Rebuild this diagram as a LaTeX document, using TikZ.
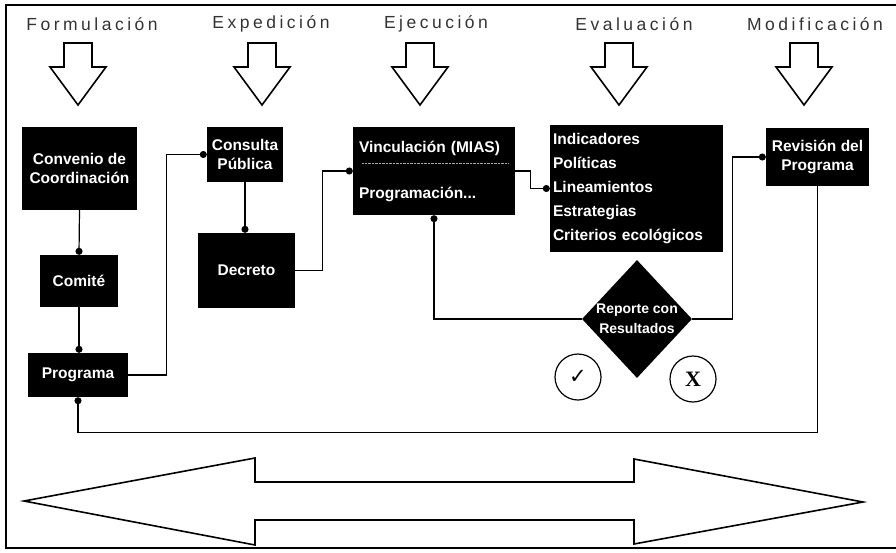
\documentclass[tikz,border=0pt]{standalone}
\usepackage{fontspec}
\setmainfont{Liberation Sans}
\newfontfamily\titlefont[LetterSpace=20]{Liberation Sans}
\newfontfamily\symfont{DejaVu Sans}
\newfontfamily\xfont{Liberation Serif}
\usetikzlibrary{arrows.meta, shapes.geometric}

\begin{document}
\begin{tikzpicture}[x=1pt, y=-1pt, >={Circle[length=7pt]}]
  \tikzstyle{block} = [fill=black, text=white, font=\fontsize{15.5}{19}\selectfont\bfseries, align=center, inner sep=2pt]
  \tikzstyle{stage} = [text=black!80, font=\titlefont\fontsize{17.5}{20}\selectfont]
  \tikzstyle{link} = [draw, line width=1.2pt, ->]
  \tikzstyle{hollow} = [draw, line width=1.6pt, fill=white, line join=miter]
  \tikzstyle{answer} = [circle, draw, line width=1.2pt, minimum size=46pt, inner sep=0pt]

  \useasboundingbox (0,0) rectangle (896,552);
  \draw[line width=1.6pt] (896,5) -- (6,5) -- (6,548) -- (896,548);

  % etapas
  \foreach \name/\txt/\tx/\ax in {form/Formulación/92/78, exped/Expedición/271/262, ejec/Ejecución/436/420, eval/Evaluación/634/619, modif/Modificación/815/804} {
    \node[stage] (\name) at (\tx,24) {\txt};
    \draw[hollow] (\ax-14,43) -- (\ax+14,43) -- (\ax+14,67) -- (\ax+28,67) -- (\ax,105)
      -- (\ax-28,67) -- (\ax-14,67) -- cycle;
  }

  \node[block, minimum width=115pt, minimum height=83pt] (convenio) at (79.5,168.5) {Convenio de\\Coordinación};
  \node[block, minimum width=78pt, minimum height=52pt] (comite) at (79,281) {Comité};
  \node[block, minimum width=100pt, minimum height=44pt] (programa) at (78,375) {Programa};
  \node[block, minimum width=76pt, minimum height=55pt] (consulta) at (245,154.5) {Consulta\\Pública};
  \node[block, minimum width=97pt, minimum height=75pt] (decreto) at (246.5,270.5) {Decreto};
  \node[block, align=left, text width=150pt, inner xsep=6pt, minimum height=88pt] (vinc) at (434,171)
    {Vinculación (MIAS)\\[27pt]Programación...};
  \draw[gray!70, densely dotted] (362,163) -- (508,163);
  \node[block, align=left, text width=167pt, inner xsep=3pt, minimum height=127pt,
    font=\fontsize{15.5}{24}\selectfont\bfseries] (ind) at (636.5,188.5)
    {Indicadores\\Políticas\\Lineamientos\\Estrategias\\Criterios ecológicos};
  \node[block, minimum width=103pt, minimum height=58pt] (revision) at (817.5,157) {Revisión del\\Programa};

  \node[diamond, fill=black, text=white, font=\fontsize{14}{20}\selectfont\bfseries, align=center,
    minimum width=110pt, minimum height=118pt, aspect=0.93, inner sep=0pt] (reporte) at (637,319)
    {Reporte con\\Resultados};
  \node[answer, font=\symfont\fontsize{21}{21}\selectfont\bfseries] (si) at (578,377) {✓};
  \node[answer, font=\xfont\fontsize{22}{22}\selectfont\bfseries] (no) at (693,379) {X};

  \draw[link] (convenio.south) -- (comite.north);
  \draw[link] (comite.south) -- (comite.south |- programa.north);
  \draw[link] (programa.east) -- ++(38,0) |- (consulta.west);
  \draw[link] (consulta.south) -- (consulta.south |- decreto.north);
  \draw[link] (decreto.east) -- ++(27,0) |- (vinc.west);
  \draw[link] (vinc.east) -- ++(15,0) |- (ind.west);
  \draw[link] (reporte.west) -| (vinc.south);
  \draw[link] (reporte.east) -- ++(40,0) |- (revision.west);
  \draw[link] (revision.south) -- ++(0,246) -| (programa.south);

  % linea de tiempo
  \draw[hollow] (24,501) -- (255,458) -- (255,482) -- (634,482) -- (634,459) -- (863,502)
    -- (634,544) -- (634,520) -- (255,520) -- (255,545) -- cycle;
\end{tikzpicture}
\end{document}
